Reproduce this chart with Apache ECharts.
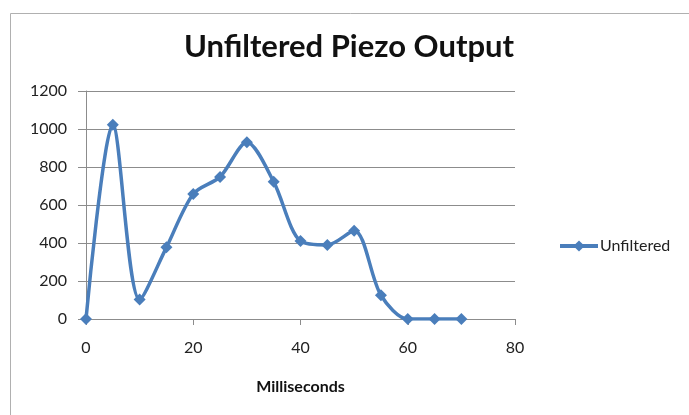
<!DOCTYPE html>
<html>
<head>
<meta charset="utf-8">
<script src="https://cdn.jsdelivr.net/npm/echarts@6/dist/echarts.min.js"></script>
<style>
  html, body { margin: 0; padding: 0; background: #fff; }
  #main { width: 689px; height: 415px; }
</style>
</head>
<body>
<div id="main"></div>
<script>
// 读自图片的数据
const milliseconds = [0, 5, 10, 15, 20, 25, 30, 35, 40, 45, 50, 55, 60, 65, 70]
const unfiltered = [0, 1022, 102, 377, 658, 748, 930, 722, 410, 390, 465, 125, 0, 0, 0]
const xTicks = [0, 20, 40, 60, 80]
const yTicks = [0, 200, 400, 600, 800, 1000, 1200]

const chart = echarts.init(document.getElementById('main'))
const blue = '#4a7ebb'
const grey = '#8c8c8c'
const font = 'Lato'

const option = {
  backgroundColor: '#fff',
  animation: false,
  graphic: [
    {
      type: 'rect',
      left: 8,
      top: 11,
      shape: { width: 720, height: 440 },
      style: { fill: 'none', stroke: '#b0b0b0', lineWidth: 1 },
      z: -1
    }
  ],
  title: {
    text: 'Unfiltered Piezo Output',
    left: 344,
    textAlign: 'center',
    top: 26,
    textStyle: {
      fontFamily: font,
      fontWeight: 'bold',
      fontSize: 31,
      color: '#111'
    }
  },
  legend: {
    left: 553,
    top: 233,
    itemWidth: 38,
    itemHeight: 14,
    itemGap: 2,
    data: ['Unfiltered'],
    lineStyle: { width: 4 },
    textStyle: { fontFamily: font, fontSize: 16, color: '#222', padding: [0, 0, 0, -3] }
  },
  grid: { left: 86, right: 174, top: 91, bottom: 96 },
  xAxis: {
    type: 'value',
    min: xTicks[0],
    max: xTicks[xTicks.length - 1],
    interval: 20,
    name: 'Milliseconds',
    nameLocation: 'middle',
    nameGap: 60,
    nameTextStyle: { fontFamily: font, fontWeight: 'bold', fontSize: 16, color: '#111' },
    axisLine: { lineStyle: { color: grey, width: 1 } },
    axisTick: { show: true, length: 6, lineStyle: { color: grey } },
    axisLabel: { margin: 21, fontFamily: font, fontSize: 16, color: '#222' },
    splitLine: { show: false }
  },
  yAxis: {
    type: 'value',
    min: yTicks[0],
    max: yTicks[yTicks.length - 1],
    interval: 200,
    axisLine: { show: true, lineStyle: { color: grey, width: 1 } },
    axisTick: { show: true, length: 8, lineStyle: { color: grey } },
    axisLabel: {
      margin: 19,
      fontFamily: font,
      fontSize: 16,
      color: '#222',
      formatter: v => String(v)
    },
    splitLine: { lineStyle: { color: grey, width: 1 } }
  },
  series: [
    {
      name: 'Unfiltered',
      type: 'line',
      smooth: 0.3,
      data: milliseconds.map((x, i) => [x, unfiltered[i]]),
      symbol: 'diamond',
      symbolSize: 12,
      lineStyle: { color: blue, width: 3.5 },
      itemStyle: { color: blue }
    }
  ]
}

chart.setOption(option)
</script>
</body>
</html>
